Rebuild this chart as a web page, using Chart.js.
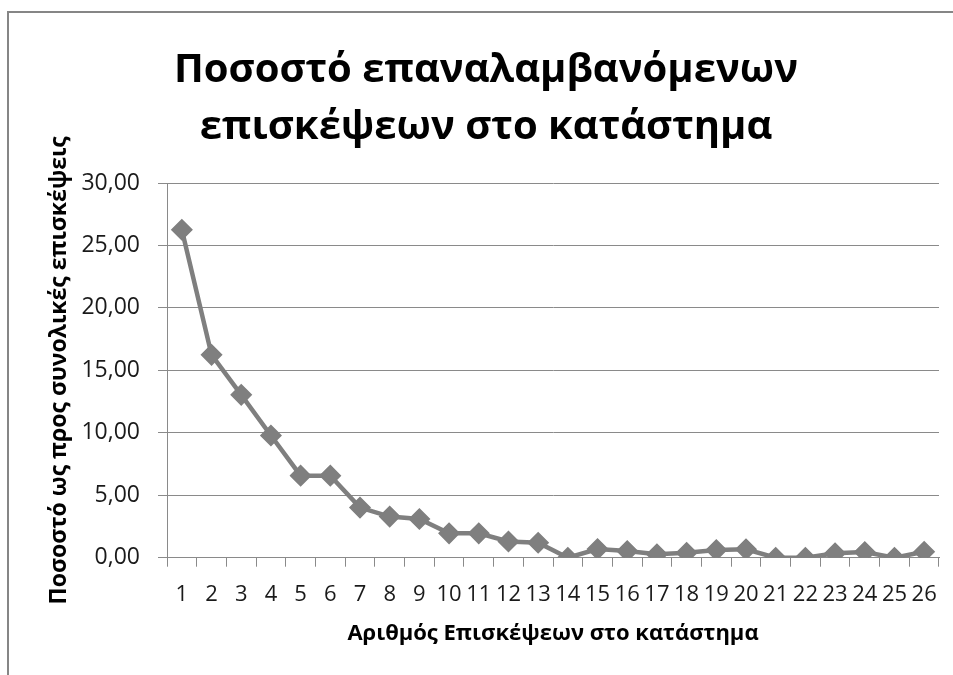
<!DOCTYPE html>
<html>
<head>
<meta charset="utf-8">
<script src="https://cdn.jsdelivr.net/npm/chart.js@4/dist/chart.umd.min.js"></script>
<style>
  html, body { margin: 0; padding: 0; background: #ffffff; }
  #wrap { position: relative; width: 953px; height: 675px; }
</style>
</head>
<body>
<div id="wrap"><canvas id="chart" width="953" height="675"></canvas></div>
<script>
// Visit number in the store (1..26)
const visitNumbers = ['1','2','3','4','5','6','7','8','9','10','11','12','13',
  '14','15','16','17','18','19','20','21','22','23','24','25','26'];

// Share of repeat visits relative to total visits (%)
const visitShare = [26.26, 16.24, 13.04, 9.78, 6.57, 6.57, 4.01, 3.29, 3.10, 1.95, 1.95, 1.30, 1.20,
  0.00, 0.69, 0.53, 0.27, 0.40, 0.61, 0.67, 0.00, 0.00, 0.35, 0.45, 0.00, 0.48];

const titleLines = ['Ποσοστό επαναλαμβανόμενων', 'επισκέψεων στο κατάστημα'];
const yAxisTitle = 'Ποσοστό ως προς συνολικές επισκέψεις';
const xAxisTitle = 'Αριθμός Επισκέψεων στο κατάστημα';

const FONT = '"Open Sans", "Noto Sans", sans-serif';
const GRID = '#8a8a8a';
const SERIES = '#7f7f7f';

// Outer chart frame
const framePlugin = {
  id: 'frame',
  beforeDraw(chart) {
    const ctx = chart.ctx;
    ctx.save();
    ctx.strokeStyle = '#868686';
    ctx.lineWidth = 2;
    ctx.strokeRect(8, 12, 1000, 1000);
    ctx.restore();
  }
};

new Chart(document.getElementById('chart'), {
  type: 'line',
  data: {
    labels: visitNumbers,
    datasets: [{
      data: visitShare,
      borderColor: SERIES,
      backgroundColor: SERIES,
      borderWidth: 4.5,
      pointStyle: 'rectRot',
      pointRadius: 10,
      pointHoverRadius: 10,
      pointBorderWidth: 1.5,
      pointBorderColor: SERIES,
      pointBackgroundColor: SERIES,
      tension: 0,
      fill: false
    }]
  },
  options: {
    responsive: false,
    animation: false,
    events: [],
    layout: { padding: { left: 33, right: 14, top: 0, bottom: 0 } },
    plugins: {
      legend: { display: false },
      tooltip: { enabled: false },
      title: {
        display: true,
        text: titleLines,
        color: '#000000',
        font: { family: FONT, size: 40, weight: 'bold', lineHeight: '57px' },
        padding: { top: 42, bottom: 27 }
      }
    },
    scales: {
      x: {
        type: 'category',
        offset: true,
        grid: {
          offset: true,
          drawOnChartArea: false,
          drawTicks: true,
          tickLength: 9,
          color: GRID,
          lineWidth: 1
        },
        border: { display: true, color: GRID, width: 1 },
        ticks: {
          color: '#1a1a1a',
          font: { family: FONT, size: 22 },
          padding: 15,
          maxRotation: 0,
          autoSkip: false
        },
        title: {
          display: true,
          text: xAxisTitle,
          color: '#000000',
          font: { family: FONT, size: 22, weight: 'bold' },
          padding: { top: 4, bottom: 28 }
        },
        afterFit(scale) { scale.height = 117.3; }
      },
      y: {
        min: 0,
        max: 30,
        grid: {
          color: GRID,
          lineWidth: 1,
          drawTicks: true,
          tickLength: 9
        },
        border: { display: true, color: GRID, width: 1 },
        ticks: {
          stepSize: 5,
          color: '#1a1a1a',
          font: { family: FONT, size: 23 },
          padding: 18,
          callback: (v) => Number(v).toFixed(2).replace('.', ',')
        },
        title: {
          display: true,
          text: yAxisTitle,
          color: '#000000',
          font: { family: FONT, size: 23, weight: 'bold' },
          padding: { top: 13, bottom: 0 }
        },
        afterFit(scale) { scale.width = 134; }
      }
    }
  },
  plugins: [framePlugin]
});
</script>
</body>
</html>
